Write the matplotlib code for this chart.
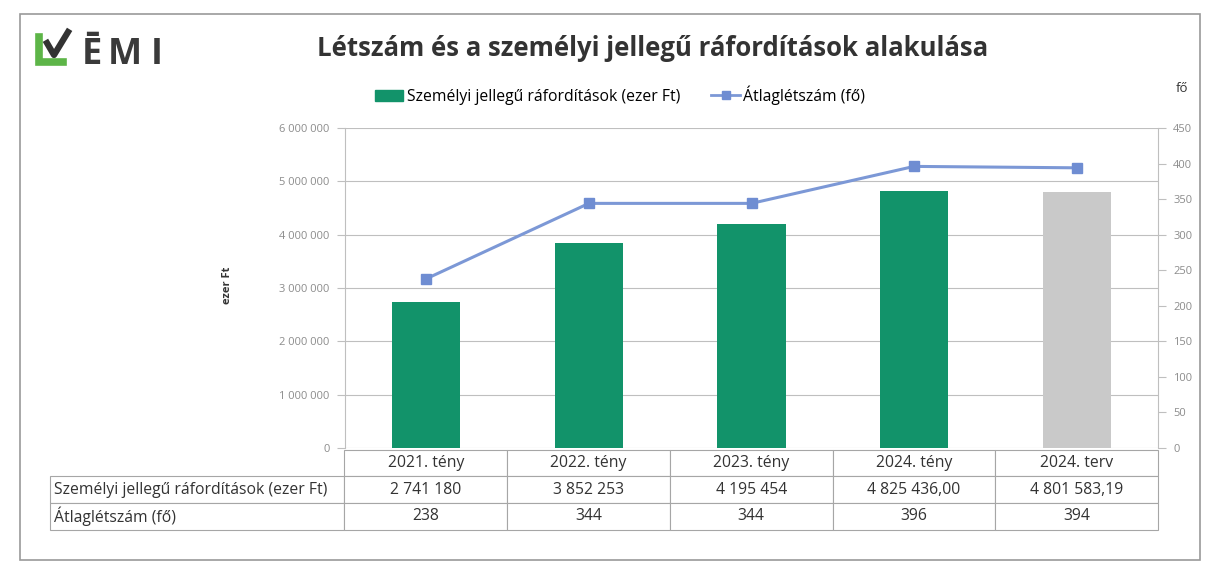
"""
Létszám és a személyi jellegű ráfordítások alakulása (ÉMI) — combo chart with data table.
"""
import matplotlib
matplotlib.use('Agg')
import matplotlib.pyplot as plt
from matplotlib.patches import Rectangle, Patch
from matplotlib.lines import Line2D
from matplotlib.ticker import FuncFormatter, MultipleLocator

plt.rcParams.update({
    "font.family": ["Open Sans", "DejaVu Sans"],
    "font.size": 10,
})

# data
categories = ['2021. tény', '2022. tény', '2023. tény', '2024. tény', '2024. terv']
costs = [2741180, 3852253, 4195454, 4825436.00, 4801583.19]
headcount = [238, 344, 344, 396, 394]
cost_labels = ['2 741 180', '3 852 253', '4 195 454', '4 825 436,00', '4 801 583,19']
head_labels = ['238', '344', '344', '396', '394']
row_labels = ['Személyi jellegű ráfordítások (ezer Ft)', 'Átlaglétszám (fő)']
bar_colors = ['#12936A', '#12936A', '#12936A', '#12936A', '#C9C9C9']

GREEN = '#12936A'
LINE = '#7C98D6'
MARK = '#6F8DD2'
GRID = '#BFBFBF'
TICK = '#8C8C8C'

W, H = 1208, 569


def fx(px):
    return px / W


def fy(py):
    return 1 - py / H


def space_fmt(v, pos):
    return f'{int(round(v)):,}'.replace(',', ' ')


def main():
    fig = plt.figure(figsize=(W / 100, H / 100), dpi=100)

    left, right, top, bottom = 345, 1158, 128, 448
    ax = fig.add_axes([fx(left), fy(bottom), fx(right - left), (bottom - top) / H])

    x = range(len(categories))
    ax.bar(x, costs, width=0.42, color=bar_colors, zorder=2)
    ax.set_xlim(-0.5, len(categories) - 0.5)
    ax.set_ylim(0, 6_000_000)
    ax.yaxis.set_major_locator(MultipleLocator(1_000_000))
    ax.yaxis.set_major_formatter(FuncFormatter(space_fmt))
    ax.grid(axis='y', color=GRID, lw=0.8, zorder=0)
    ax.set_xticks([])
    ax.tick_params(axis='y', colors=GRID, labelcolor=TICK, labelsize=8, length=6,
                   width=0.8, pad=5)
    for s in ['top', 'right', 'bottom']:
        ax.spines[s].set_visible(False)
    ax.spines['left'].set_color(GRID)
    ax.spines['left'].set_linewidth(0.8)

    ax2 = ax.twinx()
    ax2.plot(list(x), headcount, '-', color=LINE, lw=2.2, marker='s', ms=6.5,
             mfc=MARK, mec=MARK, zorder=3)
    ax2.set_ylim(0, 450)
    ax2.yaxis.set_major_locator(MultipleLocator(50))
    ax2.tick_params(axis='y', colors=GRID, labelcolor=TICK, labelsize=8, length=6,
                    width=0.8, pad=5)
    for s in ['top', 'left', 'bottom']:
        ax2.spines[s].set_visible(False)
    ax2.spines['right'].set_color(GRID)
    ax2.spines['right'].set_linewidth(0.8)

    # data table below the plot
    cell_text = [[row_labels[0]] + cost_labels, [row_labels[1]] + head_labels]
    lab_w = (left - 50) / (right - left)
    tbl = ax.table(cellText=cell_text, colLabels=[''] + categories,
                   cellLoc='center', bbox=[-lab_w, -0.255, 1 + lab_w, 0.25])
    tbl.auto_set_font_size(False)
    tbl.set_fontsize(11.3)
    for (r, c), cell in tbl.get_celld().items():
        cell.set_edgecolor('#A6A6A6')
        cell.set_linewidth(0.8)
        cell.get_text().set_color('#333333')
        cell.set_width(295 if c == 0 else 163)
        if c == 0:
            cell.PAD = 0.012
            cell.get_text().set_ha('left')
        if r == 0 and c == 0:
            cell.visible_edges = 'open'

    # title, logo, legend, axis captions
    fig.text(fx(653), fy(49), 'Létszám és a személyi jellegű ráfordítások alakulása',
             ha='center', va='center', fontsize=18.5, fontweight='bold', color='#333333')

    fig.add_artist(Line2D([fx(39), fx(39), fx(63)], [fy(37), fy(61.5), fy(61.5)],
                          color='#5DB548', lw=5.5, solid_joinstyle='miter'))
    fig.add_artist(Line2D([fx(47), fx(54), fx(68)], [fy(43), fy(55), fy(32)],
                          color='#333333', lw=4.5))
    for ch, px in zip('ĒMI', [82, 108, 151]):
        fig.text(fx(px), fy(64), ch, ha='left', va='baseline', fontsize=26,
                 fontweight='bold', color='#3A3A3A')

    handles = [Patch(color=GREEN),
               Line2D([], [], color=LINE, lw=2, marker='s', ms=6, mfc=MARK, mec=MARK)]
    fig.legend(handles, ['Személyi jellegű ráfordítások (ezer Ft)', 'Átlaglétszám (fő)'],
               loc='center', bbox_to_anchor=(fx(620), fy(95)), ncol=2, frameon=False,
               fontsize=11.3, handlelength=1.8, handletextpad=0.2, columnspacing=2.0)

    fig.text(fx(228), fy(285), 'ezer Ft', rotation=90, ha='center', va='center',
             fontsize=8, fontweight='bold', color='#333333')
    fig.text(fx(1182), fy(88), 'fő', ha='center', va='center', fontsize=9.5, color='#333333')

    fig.add_artist(Rectangle((fx(20), fy(560)), fx(1180), (560 - 14) / H,
                             transform=fig.transFigure, fill=False, ec='#9A9A9A', lw=1.2))

    fig.savefig('out.png', dpi=100)
    plt.close(fig)


if __name__ == '__main__':
    main()
